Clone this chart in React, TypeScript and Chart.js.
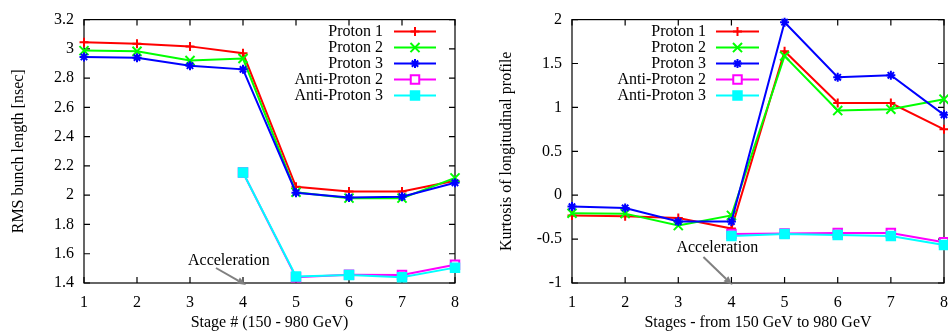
import React, { useEffect, useRef } from 'react';
import { Chart, registerables } from 'chart.js';
import { drawPoint } from 'chart.js/helpers';

Chart.register(...registerables);

// ---------- data ----------
const stages = ['1', '2', '3', '4', '5', '6', '7', '8'];
const seriesNames = ['Proton 1', 'Proton 2', 'Proton 3', 'Anti-Proton 2', 'Anti-Proton 3'];
const seriesColors = ['#ff0000', '#00ff00', '#0000ff', '#ff00ff', '#00ffff'];

const rmsProton1 = [3.046, 3.035, 3.017, 2.97, 2.057, 2.025, 2.025, 2.099];
const rmsProton2 = [2.988, 2.983, 2.92, 2.934, 2.02, 1.98, 1.98, 2.118];
const rmsProton3 = [2.945, 2.94, 2.885, 2.86, 2.017, 1.985, 1.99, 2.085];
const rmsAnti2 = [null, null, null, 2.155, 1.44, 1.456, 1.454, 1.525];
const rmsAnti3 = [null, null, null, 2.155, 1.445, 1.454, 1.44, 1.505];

const kurtProton1 = [-0.23, -0.24, -0.26, -0.38, 1.64, 1.05, 1.05, 0.75];
const kurtProton2 = [-0.205, -0.21, -0.346, -0.23, 1.585, 0.964, 0.98, 1.094];
const kurtProton3 = [-0.13, -0.145, -0.3, -0.3, 1.97, 1.343, 1.366, 0.915];
const kurtAnti2 = [null, null, null, -0.443, -0.435, -0.43, -0.43, -0.536];
const kurtAnti3 = [null, null, null, -0.465, -0.443, -0.454, -0.465, -0.566];

const rmsTicks = { min: 1.4, max: 3.2, step: 0.2 };
const kurtTicks = { min: -1, max: 2, step: 0.5 };
const annotationText = 'Acceleration';
const annotationStage = '4';

// ---------- styles ----------
const FONT_FAMILY = '"Liberation Serif", "Times New Roman", serif';
const FONT = { family: FONT_FAMILY, size: 16 };
const pointStyles = ['cross', 'crossRot', 'star', 'rect', 'rect'];
const pointRadii = [4.5, 6.4, 4.5, 6, 6];
const pointFills = ['#ff0000', '#00ff00', '#0000ff', '#ffffff', '#00ffff'];

type PanelCfg = {
  series: (number | null)[][];
  yMin: number;
  yMax: number;
  yStep: number;
  yTitle: string;
  xTitle: string;
  yWidth: number;
  yTitlePad: number;
  padRight: number;
  legendTextRight: (l: number, r: number) => number;
  legendLine: (l: number, r: number) => [number, number];
  arrowTip: [number, number];
  arrowStart: [number, number];
  textPos: [number, number];
};

function fmt(v: number) {
  return String(+Number(v).toFixed(2));
}

function gnuplotPlugin(cfg: PanelCfg) {
  return {
    id: 'gnuplotDecor',
    beforeDatasetsDraw(chart: any) {
      const { ctx, chartArea } = chart;
      const { left, right, top, bottom } = chartArea;
      const xs = chart.scales.x;
      const ys = chart.scales.y;
      ctx.save();
      ctx.strokeStyle = '#000';
      ctx.lineWidth = 1.2;
      ctx.strokeRect(left, top, right - left, bottom - top);
      const tl = 6;
      ctx.beginPath();
      ys.ticks.forEach((t: any) => {
        const py = ys.getPixelForValue(t.value);
        ctx.moveTo(left, py);
        ctx.lineTo(left + tl, py);
        ctx.moveTo(right, py);
        ctx.lineTo(right - tl, py);
      });
      stages.forEach((_s, i) => {
        const px = xs.getPixelForValue(i);
        ctx.moveTo(px, bottom);
        ctx.lineTo(px, bottom - tl);
        ctx.moveTo(px, top);
        ctx.lineTo(px, top + tl);
      });
      ctx.stroke();
      ctx.restore();
    },
    afterDraw(chart: any) {
      const { ctx, chartArea } = chart;
      const { left, right, top, bottom } = chartArea;
      const xs = chart.scales.x;
      ctx.save();
      // legend
      const tx = cfg.legendTextRight(left, right);
      const [lx0, lx1] = cfg.legendLine(left, right);
      const mx = (lx0 + lx1) / 2;
      ctx.font = `16px ${FONT_FAMILY}`;
      ctx.textBaseline = 'middle';
      ctx.textAlign = 'right';
      seriesNames.forEach((name, i) => {
        const y = top + 12 + 16 * i;
        ctx.fillStyle = '#000';
        ctx.fillText(name, tx, y);
        ctx.strokeStyle = seriesColors[i];
        ctx.lineWidth = 2;
        ctx.beginPath();
        ctx.moveTo(lx0, y);
        ctx.lineTo(lx1, y);
        ctx.stroke();
        ctx.fillStyle = pointFills[i];
        ctx.strokeStyle = seriesColors[i];
        ctx.lineWidth = 2;
        drawPoint(ctx, { pointStyle: pointStyles[i], radius: pointRadii[i], rotation: 0, borderWidth: 2 } as any, mx, y);
      });
      // annotation arrow
      const x4 = xs.getPixelForValue(stages.indexOf(annotationStage));
      const tipX = x4 + cfg.arrowTip[0];
      const tipY = bottom + cfg.arrowTip[1];
      const sx = x4 + cfg.arrowStart[0];
      const sy = bottom + cfg.arrowStart[1];
      const ang = Math.atan2(tipY - sy, tipX - sx);
      const hl = 9;
      const hw = 3.5;
      const bx = tipX - hl * Math.cos(ang);
      const by = tipY - hl * Math.sin(ang);
      ctx.strokeStyle = '#808080';
      ctx.fillStyle = '#808080';
      ctx.lineWidth = 2;
      ctx.beginPath();
      ctx.moveTo(sx, sy);
      ctx.lineTo(bx, by);
      ctx.stroke();
      ctx.beginPath();
      ctx.moveTo(tipX, tipY);
      ctx.lineTo(bx + hw * Math.sin(ang), by - hw * Math.cos(ang));
      ctx.lineTo(bx - hw * Math.sin(ang), by + hw * Math.cos(ang));
      ctx.closePath();
      ctx.fill();
      ctx.fillStyle = '#000';
      ctx.textAlign = 'left';
      ctx.textBaseline = 'middle';
      ctx.fillText(annotationText, x4 + cfg.textPos[0], bottom + cfg.textPos[1]);
      ctx.restore();
    },
  };
}

function makeConfig(cfg: PanelCfg): any {
  return {
    type: 'line',
    data: {
      labels: stages,
      datasets: cfg.series.map((d, i) => ({
        label: seriesNames[i],
        data: d,
        borderColor: seriesColors[i],
        backgroundColor: seriesColors[i],
        borderWidth: 2,
        pointStyle: pointStyles[i],
        pointRadius: pointRadii[i],
        pointBorderWidth: 2,
        pointBorderColor: seriesColors[i],
        pointBackgroundColor: pointFills[i],
        tension: 0,
        clip: false,
        spanGaps: false,
        order: seriesNames.length - i,
      })),
    },
    options: {
      responsive: false,
      animation: false,
      events: [],
      layout: { padding: { left: 0, top: 15, right: cfg.padRight, bottom: 0 } },
      plugins: { legend: { display: false }, tooltip: { enabled: false } },
      scales: {
        x: {
          type: 'category',
          offset: false,
          grid: { display: false, drawTicks: false },
          border: { display: false },
          ticks: { color: '#000', padding: 10, font: FONT, maxRotation: 0, autoSkip: false },
          title: { display: true, text: cfg.xTitle, color: '#000', font: FONT, padding: { top: 0, bottom: 2.4 } },
          afterFit: (s: any) => {
            s.height = 52;
          },
        },
        y: {
          type: 'linear',
          min: cfg.yMin,
          max: cfg.yMax,
          grid: { display: false, drawTicks: false },
          border: { display: false },
          ticks: { color: '#000', padding: 10, font: FONT, stepSize: cfg.yStep, callback: (v: number) => fmt(v) },
          title: { display: true, text: cfg.yTitle, color: '#000', font: FONT, padding: { top: cfg.yTitlePad, bottom: 0 } },
          afterFit: (s: any) => {
            s.width = cfg.yWidth;
          },
        },
      },
    },
    plugins: [gnuplotPlugin(cfg)],
  };
}

function Panel({ cfg, width, left }: { cfg: PanelCfg; width: number; left: number }) {
  const ref = useRef<HTMLCanvasElement | null>(null);
  useEffect(() => {
    if (!ref.current) return;
    const chart = new Chart(ref.current, makeConfig(cfg));
    return () => chart.destroy();
  }, []);
  return (
    <canvas
      ref={ref}
      width={width}
      height={335}
      style={{ position: 'absolute', left, top: 0, width, height: 335 }}
    />
  );
}

const leftCfg: PanelCfg = {
  series: [rmsProton1, rmsProton2, rmsProton3, rmsAnti2, rmsAnti3],
  yMin: rmsTicks.min,
  yMax: rmsTicks.max,
  yStep: rmsTicks.step,
  yTitle: 'RMS bunch length [nsec]',
  xTitle: 'Stage # (150 - 980 GeV)',
  yWidth: 84,
  yTitlePad: 9.4,
  padRight: 19,
  legendTextRight: (_l, r) => r - 72,
  legendLine: (_l, r) => [r - 61, r - 19],
  arrowTip: [3, 2],
  arrowStart: [-27, -15],
  textPos: [-55, -22],
};

const rightCfg: PanelCfg = {
  series: [kurtProton1, kurtProton2, kurtProton3, kurtAnti2, kurtAnti3],
  yMin: kurtTicks.min,
  yMax: kurtTicks.max,
  yStep: kurtTicks.step,
  yTitle: 'Kurtosis of longitudinal profile',
  xTitle: 'Stages - from 150 GeV to 980 GeV',
  yWidth: 98,
  yTitlePad: 23.4,
  padRight: 24,
  legendTextRight: (l) => l + 134,
  legendLine: (l) => [l + 144, l + 187],
  arrowTip: [1, 2],
  arrowStart: [-28, -26],
  textPos: [-55, -35],
};

export default function App() {
  return (
    <div
      style={{
        position: 'absolute',
        left: 0,
        top: 0,
        width: 948,
        height: 335,
        overflow: 'hidden',
        background: '#ffffff',
      }}
    >
      <Panel cfg={leftCfg} width={474} left={0} />
      <Panel cfg={rightCfg} width={494} left={474} />
    </div>
  );
}
